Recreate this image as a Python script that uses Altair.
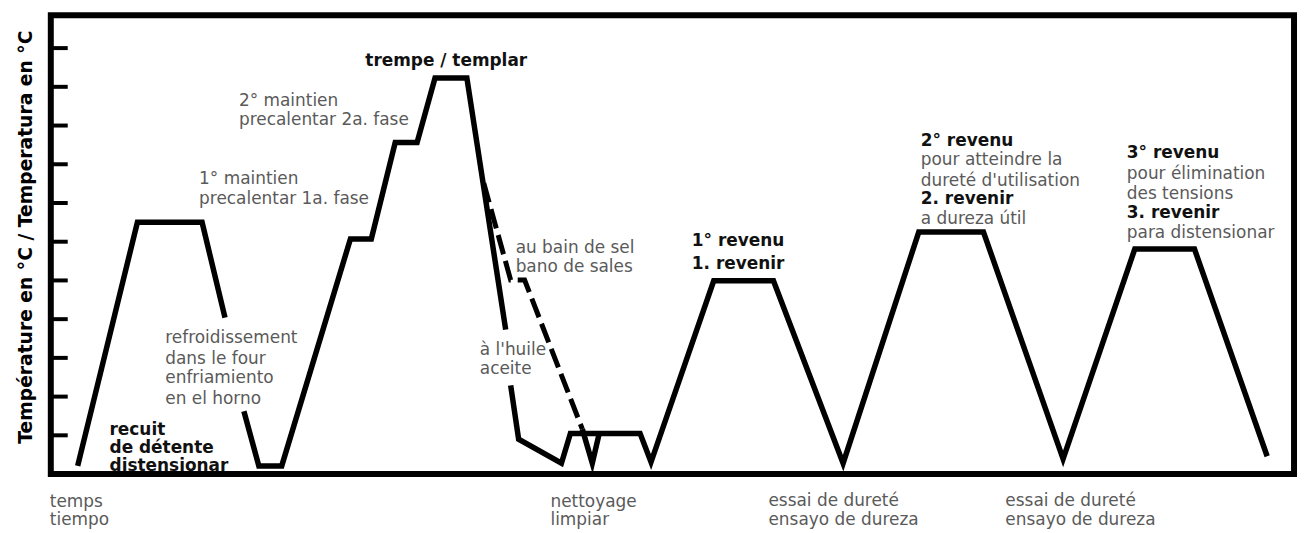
import altair as alt
import pandas as pd

# ---- main heat-treatment curve (time units, temperature units); seg = visible piece
main_t = [27, 87, 152, 175,
          194, 209, 232, 301, 322, 346, 368, 386, 418, 457,
          462, 470, 513, 522, 592, 603, 666, 726, 796, 872, 937, 1017, 1089, 1149, 1222,
          534, 544, 551]
main_T = [21, 650, 650, 404,
          162, 21, 21, 607, 607, 856, 856, 1023, 1023, 373,
          229, 90, 28, 105, 105, 31, 499, 499, 28, 625, 625, 39, 581, 581, 46,
          116, 28, 105]
main_seg = [1, 1, 1, 1,
            2, 2, 2, 2, 2, 2, 2, 2, 2, 2,
            3, 3, 3, 3, 3, 3, 3, 3, 3, 3, 3, 3, 3, 3, 3,
            4, 4, 4]

# ---- salt-bath quench (dashed)
salt_t = [435, 462, 476, 534]
salt_T = [751, 501, 501, 116]

# ---- axis ticks
tick_T = [100, 200, 300, 400, 500, 600, 700, 800, 900, 1000, 1100]

# ---- annotations (one row per text line)
lab_text = [
    "recuit", "de détente", "distensionar",
    "refroidissement", "dans le four", "enfriamiento", "en el horno",
    "1° maintien", "precalentar 1a. fase",
    "2° maintien", "precalentar 2a. fase",
    "trempe / templar",
    "au bain de sel", "bano de sales",
    "à l'huile", "aceite",
    "1° revenu", "1. revenir",
    "2° revenu", "pour atteindre la", "dureté d'utilisation", "2. revenir", "a dureza útil",
    "3° revenu", "pour élimination", "des tensions", "3. revenir", "para distensionar",
    "temps", "tiempo",
    "nettoyage", "limpiar",
    "essai de dureté", "ensayo de dureza",
    "essai de dureté", "ensayo de dureza",
]
lab_t = [
    59, 59, 59,
    115, 115, 115, 115,
    149, 149,
    189, 189,
    316,
    467, 467,
    431, 431,
    644, 644,
    874, 874, 874, 874, 874,
    1081, 1081, 1081, 1081, 1081,
    -1, -1,
    502, 502,
    721, 721,
    959, 959,
]
lab_T = [
    113, 66, 21,
    350, 298, 247, 195,
    761, 710,
    964, 913,
    1067,
    584, 535,
    321, 272,
    603, 543,
    861, 810, 758, 710, 658,
    828, 774, 722, 673, 622,
    -72, -118,
    -72, -118,
    -69, -118,
    -69, -118,
]
lab_bold = [
    True, True, True,
    False, False, False, False,
    False, False,
    False, False,
    True,
    False, False,
    False, False,
    True, True,
    True, False, False, True, False,
    True, False, False, True, False,
    False, False,
    False, False,
    False, False,
    False, False,
]

y_title = "Température en °C / Temperatura en °C"

main_df = pd.DataFrame({"t": main_t, "T": main_T, "seg": main_seg,
                        "i": list(range(len(main_t)))})
salt_df = pd.DataFrame({"t": salt_t, "T": salt_T, "i": list(range(len(salt_t)))})
tick_df = pd.DataFrame({"T": tick_T})
lab_df = pd.DataFrame({"t": lab_t, "T": lab_T, "text": lab_text, "bold": lab_bold})

xs = alt.Scale(domain=[0, 1249], nice=False, zero=False)
ys = alt.Scale(domain=[0, 1185], nice=False, zero=False)
X = alt.X("t:Q", scale=xs, axis=None)
Y = alt.Y("T:Q", scale=ys, axis=None)

main = alt.Chart(main_df).mark_line(
    color="black", strokeWidth=5.5, strokeJoin="miter", strokeCap="butt"
).encode(x=X, y=Y, detail="seg:N", order="i:Q")

salt = alt.Chart(salt_df).mark_line(
    color="black", strokeWidth=5, strokeDash=[20, 7], strokeJoin="miter", strokeCap="butt"
).encode(x=X, y=Y, order="i:Q")

ticks = alt.Chart(tick_df).mark_rule(color="black", strokeWidth=4).encode(
    y=Y, x=alt.value(0), x2=alt.value(17)
)

bold_txt = alt.Chart(lab_df).transform_filter("datum.bold").mark_text(
    align="left", baseline="middle", font="DejaVu Sans", fontSize=17,
    fontWeight="bold", color="#111111"
).encode(x=X, y=Y, text="text:N")

norm_txt = alt.Chart(lab_df).transform_filter("!datum.bold").mark_text(
    align="left", baseline="middle", font="DejaVu Sans", fontSize=17,
    color="#5a5a5a"
).encode(x=X, y=Y, text="text:N")

title = alt.Chart(pd.DataFrame({"txt": [y_title]})).mark_text(
    angle=270, align="center", baseline="middle", font="DejaVu Sans",
    fontSize=18.8, fontWeight="bold", color="black"
).encode(x=alt.value(-25), y=alt.value(223), text="txt:N")

chart = alt.layer(main, salt, ticks, bold_txt, norm_txt, title).properties(
    width=1249, height=461,
    padding={"left": 43, "top": 6, "right": 6, "bottom": 56},
    autosize=alt.AutoSizeParams(type="none"),
    background="white",
).configure_view(stroke="black", strokeWidth=6)

chart.save("out.html", embed_options={"renderer": "svg", "actions": False})
